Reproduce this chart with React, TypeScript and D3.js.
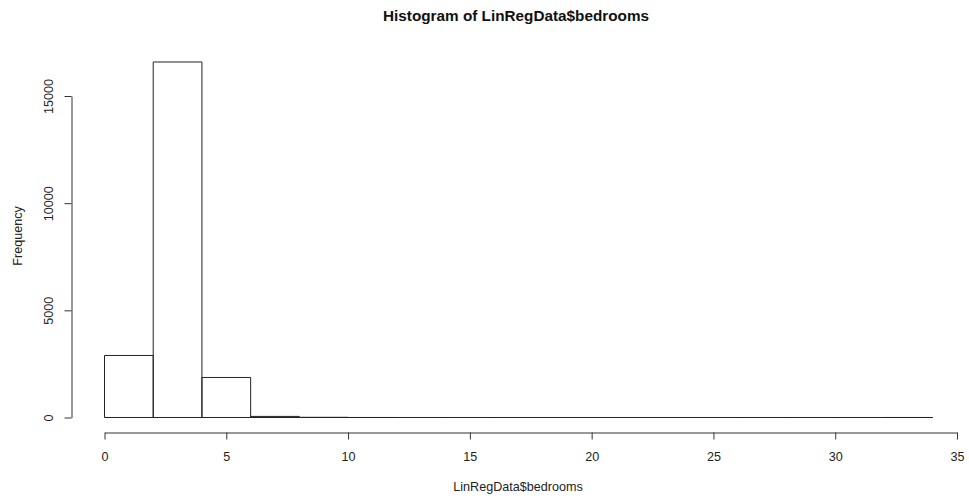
import React, { useEffect, useRef } from 'react';
import * as d3 from 'd3';

// histogram bins of LinRegData$bedrooms (width 2)
const breaks = [0, 2, 4, 6, 8, 10, 12, 14, 16, 18, 20, 22, 24, 26, 28, 30, 32, 34];
const counts = [2894, 16587, 1867, 51, 9, 1, 0, 0, 0, 0, 0, 0, 0, 0, 0, 0, 1];
const xTicks = [0, 5, 10, 15, 20, 25, 30, 35];
const yTicks = [0, 5000, 10000, 15000];

const W = 969;
const H = 500;
const FONT = '"Liberation Sans", Arial, sans-serif';

export default function App() {
  const ref = useRef<SVGSVGElement | null>(null);

  useEffect(() => {
    const svg = d3.select(ref.current);
    svg.selectAll('*').remove();

    const x = d3.scaleLinear().domain([0, 35]).range([104.5, 957]);
    const y = d3.scaleLinear().domain([0, 15000]).range([417.5, 96]);

    const bins = counts.map((c, i) => ({ x0: breaks[i], x1: breaks[i + 1], c }));

    // bars as closed paths so empty bins still show as a line on the baseline
    svg
      .append('g')
      .selectAll('path')
      .data(bins)
      .enter()
      .append('path')
      .attr('d', d => {
        const p = d3.path();
        p.moveTo(x(d.x0), y(0));
        p.lineTo(x(d.x0), y(d.c));
        p.lineTo(x(d.x1), y(d.c));
        p.lineTo(x(d.x1), y(0));
        p.closePath();
        return p.toString();
      })
      .attr('fill', 'none')
      .attr('stroke', '#222')
      .attr('stroke-width', 1);

    // x axis
    const gx = svg
      .append('g')
      .attr('transform', 'translate(0,432.5)')
      .call(d3.axisBottom(x).tickValues(xTicks).tickSize(7).tickSizeOuter(0).tickFormat(d3.format('d')));
    gx.select('.domain').attr('stroke', '#333');
    gx.selectAll('.tick line').attr('stroke', '#333');
    gx.selectAll('.tick text')
      .attr('y', 24)
      .attr('dy', '0.35em')
      .attr('fill', '#222')
      .style('font-family', FONT)
      .style('font-size', '12.6px');

    // y axis
    const gy = svg
      .append('g')
      .attr('transform', 'translate(71.5,0)')
      .call(d3.axisLeft(y).tickValues(yTicks).tickSize(7).tickSizeOuter(0).tickFormat(d3.format('d')));
    gy.select('.domain').attr('stroke', '#333');
    gy.selectAll('.tick line').attr('stroke', '#333');
    gy.selectAll('.tick text')
      .attr('transform', 'rotate(-90)')
      .attr('x', 0)
      .attr('y', -23)
      .attr('dy', '0.35em')
      .attr('text-anchor', 'middle')
      .attr('fill', '#222')
      .style('font-family', FONT)
      .style('font-size', '12.6px');

    // titles
    svg
      .append('text')
      .attr('x', 516)
      .attr('y', 16)
      .attr('dy', '0.35em')
      .attr('text-anchor', 'middle')
      .style('font-family', FONT)
      .style('font-size', '15.3px')
      .style('font-weight', 'bold')
      .attr('fill', '#111')
      .text('Histogram of LinRegData$bedrooms');

    svg
      .append('text')
      .attr('x', 518)
      .attr('y', 487)
      .attr('dy', '0.35em')
      .attr('text-anchor', 'middle')
      .style('font-family', FONT)
      .style('font-size', '12.6px')
      .attr('fill', '#222')
      .text('LinRegData$bedrooms');

    svg
      .append('text')
      .attr('transform', 'translate(18,236) rotate(-90)')
      .attr('dy', '0.35em')
      .attr('text-anchor', 'middle')
      .style('font-family', FONT)
      .style('font-size', '12.6px')
      .attr('fill', '#222')
      .text('Frequency');
  }, []);

  return (
    <svg
      ref={ref}
      width={W}
      height={H}
      style={{ position: 'absolute', left: 0, top: 0, background: '#fff' }}
    />
  );
}
